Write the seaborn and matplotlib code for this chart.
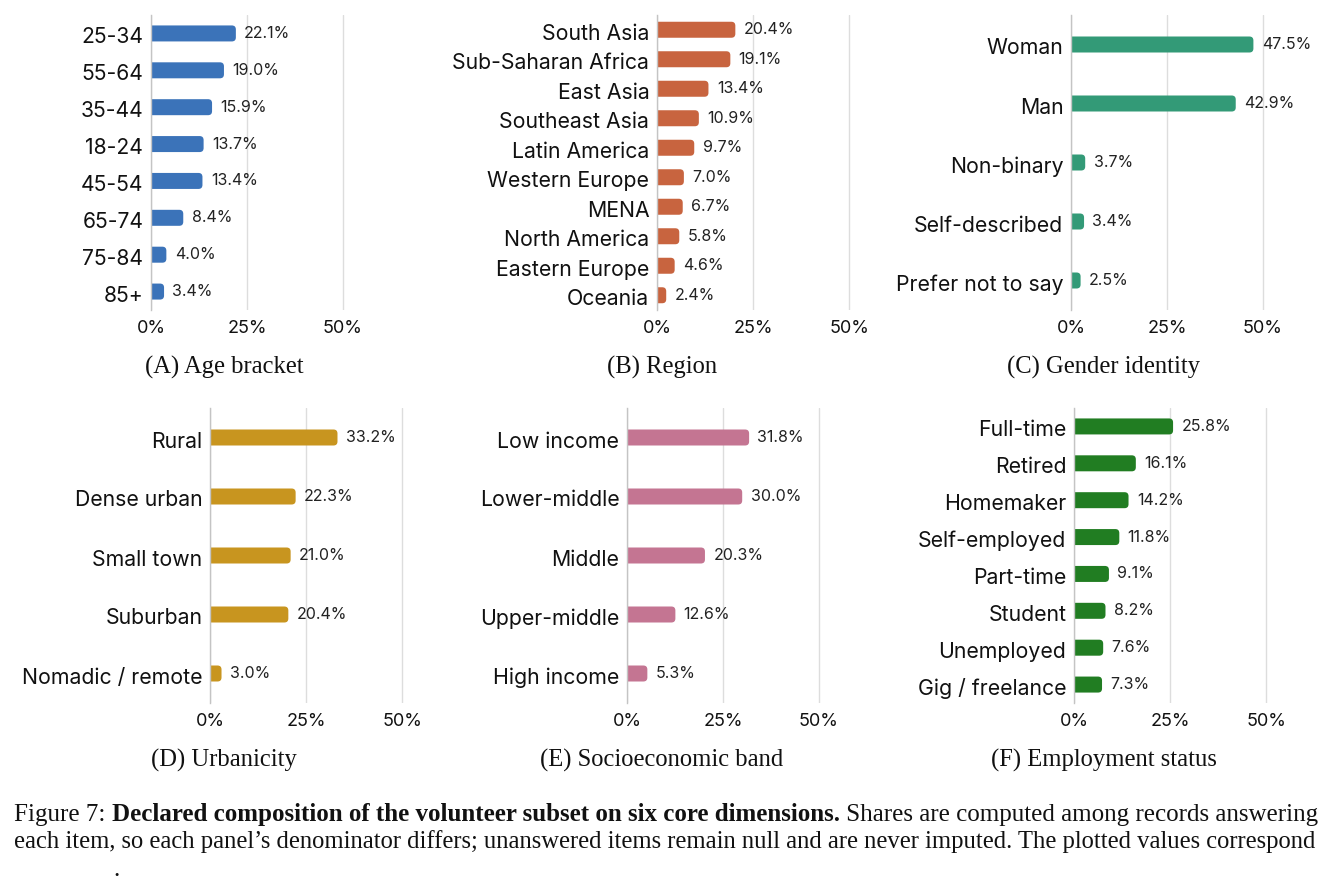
import matplotlib
matplotlib.use("Agg")
import matplotlib.pyplot as plt
import matplotlib.transforms as mtransforms
import seaborn as sns
import pandas as pd
from matplotlib.patches import FancyBboxPatch

# ---------------- data ----------------
age_labels = ["25-34", "55-64", "35-44", "18-24", "45-54", "65-74", "75-84", "85+"]
age_values = [22.1, 19.0, 15.9, 13.7, 13.4, 8.4, 4.0, 3.4]

region_labels = ["South Asia", "Sub-Saharan Africa", "East Asia", "Southeast Asia",
                 "Latin America", "Western Europe", "MENA", "North America",
                 "Eastern Europe", "Oceania"]
region_values = [20.4, 19.1, 13.4, 10.9, 9.7, 7.0, 6.7, 5.8, 4.6, 2.4]

gender_labels = ["Woman", "Man", "Non-binary", "Self-described", "Prefer not to say"]
gender_values = [47.5, 42.9, 3.7, 3.4, 2.5]

urban_labels = ["Rural", "Dense urban", "Small town", "Suburban", "Nomadic / remote"]
urban_values = [33.2, 22.3, 21.0, 20.4, 3.0]

income_labels = ["Low income", "Lower-middle", "Middle", "Upper-middle", "High income"]
income_values = [31.8, 30.0, 20.3, 12.6, 5.3]

employ_labels = ["Full-time", "Retired", "Homemaker", "Self-employed", "Part-time",
                 "Student", "Unemployed", "Gig / freelance"]
employ_values = [25.8, 16.1, 14.2, 11.8, 9.1, 8.2, 7.6, 7.3]

x_ticks = [0, 25, 50]
x_tick_labels = ["0%", "25%", "50%"]

panel_titles = ["(A) Age bracket", "(B) Region", "(C) Gender identity",
                "(D) Urbanicity", "(E) Socioeconomic band", "(F) Employment status"]

caption_normal_1 = "Figure 7: "
caption_bold_1 = "Declared composition of the volunteer subset on six core dimensions."
caption_rest_1 = " Shares are computed among records answering"
caption_line_2 = ("each item, so each panel\u2019s denominator differs; unanswered items remain "
                  "null and are never imputed. The plotted values correspond")
caption_line_3 = "."

# ---------------- style ----------------
sns.set_theme(style="white")
plt.rcParams['font.family'] = ['Inter', 'DejaVu Sans']

W, H = 1335, 893
fig = plt.figure(figsize=(W / 100, H / 100), dpi=100)

AX_W, AX_H = 230.4, 295.0
XMAX = 60.0
BAR_PX = 16.0
SERIF = ['Liberation Serif', 'DejaVu Serif']


def add_panel(left, top, labels, values, color, ysize):
    n = len(labels)
    ax = fig.add_axes([left / W, (H - top - AX_H) / H, AX_W / W, AX_H / H])
    df = pd.DataFrame({"cat": labels, "val": values})
    bar_w = BAR_PX / (AX_H / n)
    sns.barplot(data=df, x="val", y="cat", orient="h", order=labels, color=color,
                saturation=1, width=bar_w, errorbar=None, ax=ax)
    ax.set_xlim(0, XMAX)
    ax.set_ylim(n - 0.5, -0.5)
    ax.bar_label(ax.containers[0], labels=[f"{v:.1f}%" for v in values],
                 padding=6, fontsize=11.5, color="#222222")
    xu = XMAX / AX_W
    yu = n / AX_H
    asp = yu / xu
    r = 4.0 * xu
    for p in list(ax.patches):
        x0, y0 = p.get_x(), p.get_y()
        w, h = p.get_width(), p.get_height()
        p.remove()
        fb = FancyBboxPatch((x0 - 2 * r, y0), w + 2 * r, h,
                            boxstyle=f"round,pad=0,rounding_size={r}",
                            mutation_aspect=asp, fc=color, ec="none", lw=0)
        ax.add_patch(fb)
    ax.set_xticks(x_ticks, x_tick_labels)
    ax.set_xlabel("")
    ax.set_ylabel("")
    ax.grid(axis="x", color="#dddddd", lw=1)
    ax.grid(axis="y", visible=False)
    ax.set_axisbelow(True)
    for s in ["top", "right", "bottom"]:
        ax.spines[s].set_visible(False)
    ax.spines["left"].set_color("#c4c4c4")
    ax.spines["left"].set_linewidth(1)
    ax.tick_params(axis="y", length=0, pad=5.5, labelsize=ysize, labelcolor="#111111")
    ax.tick_params(axis="x", length=0, pad=7.5, labelsize=13, labelcolor="#111111")
    shift = mtransforms.ScaledTranslation(0, -2 / 100, fig.dpi_scale_trans)
    for lab in ax.get_yticklabels():
        lab.set_transform(lab.get_transform() + shift)
    return ax


add_panel(151, 15, age_labels, age_values, "#3b73b9", 15.2)
add_panel(657, 15, region_labels, region_values, "#c8643f", 15.3)
add_panel(1071, 15, gender_labels, gender_values, "#339a77", 15.3)
add_panel(210, 408, urban_labels, urban_values, "#c8951f", 15.3)
add_panel(627, 408, income_labels, income_values, "#c47592", 15.3)
add_panel(1074, 408, employ_labels, employ_values, "#217d22", 15.3)

title_x = [224, 662, 1104, 224, 662, 1104]
title_y = [366, 366, 366, 759, 759, 759]
for t, tx, ty in zip(panel_titles, title_x, title_y):
    fig.text(tx / W, 1 - (ty + 1) / H, t, ha="center", va="center", fontsize=17.7,
             family=SERIF, color="#111111")

# ---------------- caption ----------------
CAP_SIZE = 18
fig.canvas.draw()
renderer = fig.canvas.get_renderer()
x = 14
y1 = 1 - 815 / H
for txt, wt in [(caption_normal_1, "normal"), (caption_bold_1, "bold"), (caption_rest_1, "normal")]:
    t = fig.text(x / W, y1, txt, ha="left", va="center", fontsize=CAP_SIZE,
                 family=SERIF, weight=wt, color="#111111")
    bb = t.get_window_extent(renderer=renderer)
    x += bb.width
fig.text(14 / W, 1 - 842 / H, caption_line_2, ha="left", va="center", fontsize=17.75,
         family=SERIF, color="#111111")
fig.text(113 / W, 1 - 870 / H, caption_line_3, ha="left", va="center", fontsize=CAP_SIZE,
         family=SERIF, color="#111111")

fig.savefig("out.png", dpi=100, facecolor="white")
